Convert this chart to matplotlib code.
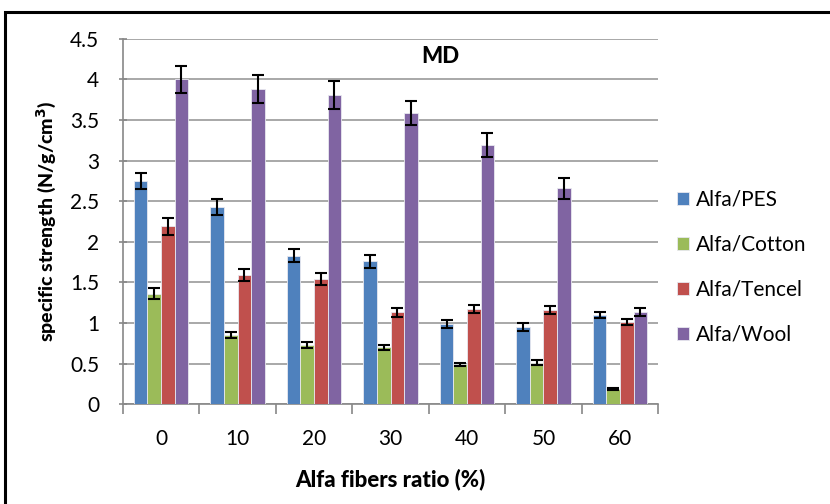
import matplotlib.pyplot as plt
import numpy as np
from matplotlib.patches import Rectangle

ratios = ['0', '10', '20', '30', '40', '50', '60']
series = ['Alfa/PES', 'Alfa/Cotton', 'Alfa/Tencel', 'Alfa/Wool']
pes = [2.75, 2.43, 1.83, 1.76, 0.99, 0.95, 1.10]
cotton = [1.36, 0.85, 0.73, 0.70, 0.49, 0.51, 0.19]
tencel = [2.19, 1.59, 1.54, 1.13, 1.17, 1.16, 1.01]
wool = [4.00, 3.88, 3.81, 3.59, 3.19, 2.66, 1.14]
pes_err = [0.10, 0.10, 0.08, 0.08, 0.05, 0.05, 0.04]
cotton_err = [0.07, 0.04, 0.04, 0.03, 0.02, 0.03, 0.01]
tencel_err = [0.10, 0.07, 0.07, 0.05, 0.05, 0.05, 0.04]
wool_err = [0.17, 0.17, 0.17, 0.15, 0.15, 0.13, 0.05]

colors = ['#4F81BD', '#9BBB59', '#C0504D', '#8064A2']

plt.rcParams['font.family'] = ['Lato', 'DejaVu Sans']

fig = plt.figure(figsize=(8.3, 5.04), dpi=100)
ax = fig.add_axes([0.148, 0.198, 0.645, 0.725])

x = np.arange(len(ratios))
w = 0.178
vals = [pes, cotton, tencel, wool]
errs = [pes_err, cotton_err, tencel_err, wool_err]
for i in range(4):
    ax.bar(x + (i - 1.5) * w, vals[i], w, color=colors[i], edgecolor='#e8e8f0',
           linewidth=0.6, label=series[i], zorder=3,
           yerr=errs[i], error_kw=dict(ecolor='black', elinewidth=1.5, capsize=4, capthick=1.5, zorder=4))

ax.set_xlim(-0.5, 6.5)
ax.set_ylim(0, 4.5)
ax.set_yticks(np.arange(0, 4.51, 0.5))
ax.set_yticklabels(['0', '0.5', '1', '1.5', '2', '2.5', '3', '3.5', '4', '4.5'])
ax.set_xticks(x)
ax.set_xticklabels(ratios)
ax.set_xticks(np.arange(-0.5, 7, 1), minor=True)
ax.tick_params(axis='x', which='major', length=0, pad=18, labelsize=15)
ax.tick_params(axis='x', which='minor', length=7, color='#888888', width=1.2)
ax.tick_params(axis='y', length=6, direction='inout', color='#888888', width=1.2, labelsize=15, pad=14)
ax.grid(axis='y', color='#999999', linewidth=1.2, zorder=0)
ax.set_axisbelow(True)
for s in ['top', 'right']:
    ax.spines[s].set_visible(False)
for s in ['left', 'bottom']:
    ax.spines[s].set_color('#888888')
    ax.spines[s].set_linewidth(1.2)

ax.text(3.65, 4.28, 'MD', fontsize=16, fontweight='black', ha='center', va='center')
ax.set_ylabel('specific strength (N/g/cm$^\\mathbf{3}$)', fontsize=14, fontweight='black', labelpad=8)
ax.set_xlabel('Alfa fibers ratio (%)', fontsize=16, fontweight='black', labelpad=14)

leg = ax.legend(loc='center left', bbox_to_anchor=(1.0, 0.375), frameon=False,
                fontsize=15, handlelength=0.6, handleheight=0.6, handletextpad=0.3,
                labelspacing=1.2)

fig.patches.append(Rectangle((5 / 830, -0.05), 1.2, (504 - 12) / 504 + 0.05,
                             transform=fig.transFigure, fill=False,
                             edgecolor='black', linewidth=2.2))

fig.savefig('out.png', dpi=100)
